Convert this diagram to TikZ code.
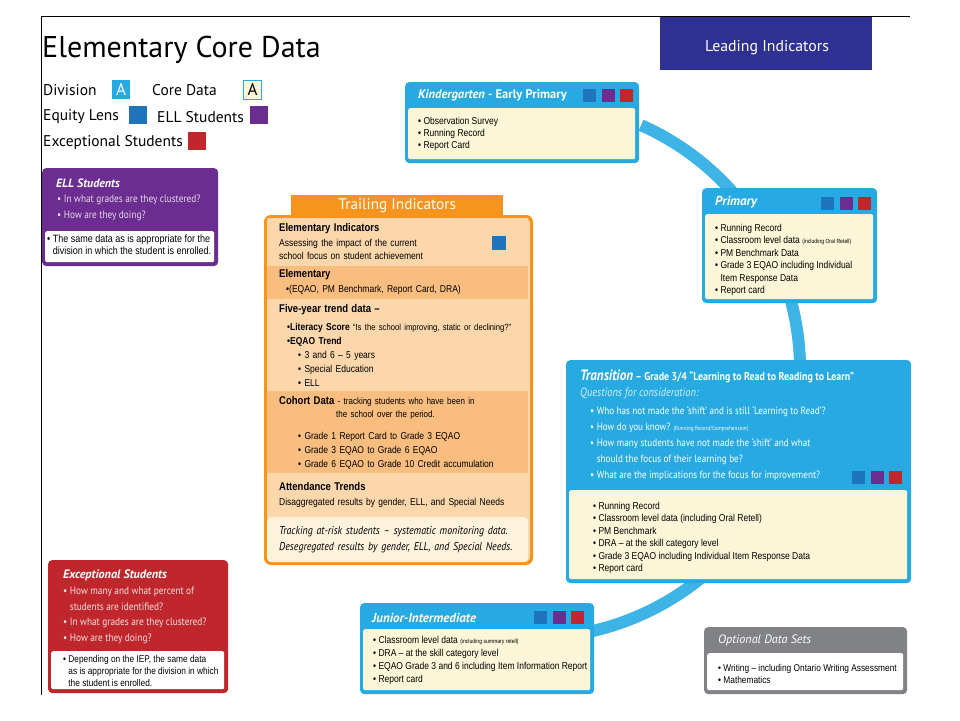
\documentclass[tikz,border=0pt]{standalone}
\usepackage{fontspec}
\setmainfont{PT Sans}
\newfontfamily\condfont[FakeStretch=0.87]{PT Sans}
\newfontfamily\narrowfont[FakeStretch=0.85]{Liberation Sans}
\usetikzlibrary{positioning}

\definecolor{skyhead}{RGB}{39,170,225}
\definecolor{ringblue}{RGB}{62,179,230}
\definecolor{creamfill}{RGB}{252,246,216}
\definecolor{equityblue}{RGB}{31,116,188}
\definecolor{ellpurple}{RGB}{107,45,144}
\definecolor{excred}{RGB}{192,39,45}
\definecolor{leadnavy}{RGB}{46,49,146}
\definecolor{trailorange}{RGB}{247,148,29}
\definecolor{peachlight}{RGB}{252,215,172}
\definecolor{peachdark}{RGB}{250,189,128}
\definecolor{peachcream}{RGB}{253,243,221}
\definecolor{optgrey}{RGB}{128,130,133}

\newcommand{\listtext}{\narrowfont\fontsize{10}{12.4}\selectfont}
\newcommand{\tinytext}{\narrowfont\fontsize{6}{7}\selectfont}
\newcommand{\boxtitle}{\bfseries\fontsize{13}{14}\selectfont}
\newcommand{\qtext}{\condfont\fontsize{10.5}{16}\selectfont}
\newcommand{\trailtext}{\narrowfont\fontsize{10}{14}\selectfont}
\newcommand{\trailhead}{\bfseries\fontsize{11.2}{14}\selectfont}

\tikzset{
  cardframe/.style={draw=#1, fill=#1, line width=1.2, rounded corners=4,
    anchor=north west, inner sep=0},
  cardbody/.style={fill=#1, rounded corners=2, anchor=north west, inner sep=0},
  cardtitle/.style={anchor=west, inner sep=0, text=white, font=\boxtitle},
  cardlist/.style={anchor=west, inner sep=0, align=left, font=\listtext},
  colsq/.style={fill=#1, minimum size=13, inner sep=0},
  legend/.style={anchor=west, inner sep=0, font=\fontsize{15.5}{18}\selectfont},
  section/.style={fill=#1, anchor=north west, minimum width=261,
    text width=237, inner xsep=12, inner ysep=0, align=left, font=\trailtext}
}

\begin{document}
\begin{tikzpicture}[x=1pt,y=-1pt]
  \path[use as bounding box, fill=white] (0,0) rectangle (960,720);
  \draw[line width=1] (41,695) -- (41,16) -- (910,16);

  \node[anchor=west, inner sep=0, font=\fontsize{30}{32}\selectfont] (title) at (42,50) {Elementary Core Data};
  \node[legend] (division) at (43,90) {Division};
  \node[fill=skyhead, text=white, minimum width=18, minimum height=19,
    inner sep=0, font=\fontsize{17}{17}\selectfont] (divkey) at (121,89.5) {A};
  \node[legend] (coredata) at (152,90) {Core Data};
  \node[draw=skyhead, fill=creamfill, minimum width=18, minimum height=19,
    inner sep=0, font=\fontsize{17}{17}\selectfont] (corekey) at (252.5,89.5) {A};
  \node[legend] (equity) at (43,117) {Equity Lens};
  \node[colsq=equityblue, minimum size=18] (equitykey) at (138,115) {};
  \node[legend] (elllabel) at (157,117) {ELL Students};
  \node[colsq=ellpurple, minimum size=18] (ellkey) at (259,115) {};
  \node[legend] (exclabel) at (43,143) {Exceptional Students};
  \node[colsq=excred, minimum size=18] (exckey) at (197,141) {};

  \node[fill=leadnavy, minimum width=212, minimum height=53, anchor=north west] (leading) at (660,17) {};
  \node[text=white, inner sep=0, font=\fontsize{15.8}{17}\selectfont] (leadtext) at (767,48) {Leading Indicators};

  \coordinate (ringc) at (532,370);
  \draw[ringblue, line width=12] ([shift={(-66:268)}]ringc) arc[start angle=-66, end angle=77, radius=268];

  \node[cardframe=ellpurple, minimum width=175, minimum height=97] (ell) at (42,168) {};
  \node[cardbody=white, minimum width=169, minimum height=31] (ellbody) at (45,231) {};
  \node[cardtitle, font=\bfseries\itshape\fontsize{12}{13}\selectfont] (elltitle) at (56,183) {ELL Students};
  \node[cardlist, text=white!82!ellpurple, font=\condfont\fontsize{10.7}{16}\selectfont] (ellqs) at (57,208)
    {• In what grades are they clustered?\\ • How are they doing?};
  \node[cardlist, font=\narrowfont\fontsize{10.6}{12}\selectfont] (elllist) at (47,245)
    {• The same data as is appropriate for the\\ \phantom{• }division in which the student is enrolled.};

  \node[cardframe=excred, minimum width=179, minimum height=132] (exc) at (48,560) {};
  \node[cardbody=white, minimum width=173, minimum height=38] (excbody) at (51,651) {};
  \node[cardtitle, font=\bfseries\itshape\fontsize{12.2}{13}\selectfont] (exctitle) at (63,575) {Exceptional Students};
  \node[cardlist, text=white!85!excred, font=\condfont\fontsize{10.7}{15.5}\selectfont] (excqs) at (63,615.5)
    {• How many and what percent of\\ \phantom{• }students are identified?\\ • In what grades are they clustered?\\ • How are they doing?};
  \node[cardlist, font=\narrowfont\fontsize{9.8}{12}\selectfont] (exclist) at (63,671)
    {• Depending on the IEP, the same data\\ \phantom{• }as is appropriate for the division in which\\ \phantom{• }the student is enrolled.};

  \node[fill=trailorange, minimum width=212, minimum height=22, anchor=north west,
    text=white, font=\fontsize{15.3}{16}\selectfont] (trailtab) at (291,195) {Trailing Indicators};
  \node[draw=trailorange, fill=peachlight, line width=2, rounded corners=6,
    minimum width=265, minimum height=346, anchor=north west] (trailing) at (265,216) {};
  \node[section=peachlight, minimum height=47] (elemind) at (267,218)
    {{\trailhead Elementary Indicators}\\[1pt] Assessing the impact of the current\\[-1pt] school focus on student achievement};
  \node[section=peachdark, minimum height=33, below=0 of elemind] (elem)
    {{\trailhead Elementary}\\[1pt] \hspace*{7pt}•(EQAO, PM Benchmark, Report Card, DRA)};
  \node[section=peachlight, minimum height=92, below=0 of elem] (fiveyr)
    {{\trailhead Five-year trend data –}\\[4pt]
     \hspace*{8pt}•\textbf{Literacy Score} {\fontsize{9}{14}\selectfont “Is the school improving, static or declining?”}\\
     \hspace*{8pt}•\textbf{EQAO Trend}\\
     \hspace*{19pt}• 3 and 6 – 5 years\\
     \hspace*{19pt}• Special Education\\
     \hspace*{19pt}• ELL};
  \node[section=peachdark, minimum height=82, below=0 of fiveyr] (cohort)
    {{\trailhead Cohort Data} {\fontsize{9.4}{14}\selectfont - tracking students who have been in}\\[-1pt]
     \hspace*{57pt}{\fontsize{9.4}{14}\selectfont the school over the period.}\\[8pt]
     \hspace*{19pt}• Grade 1 Report Card to Grade 3 EQAO\\
     \hspace*{19pt}• Grade 3 EQAO to Grade 6 EQAO\\
     \hspace*{19pt}• Grade 6 EQAO to Grade 10 Credit accumulation};
  \node[section=peachlight, minimum height=43, below=0 of cohort] (attend)
    {{\trailhead Attendance Trends}\\[1pt] Disaggregated results by gender, ELL, and Special Needs};
  \node[section=peachcream, minimum height=45, rounded corners=4, below=0 of attend,
    font=\condfont\itshape\fontsize{11.4}{16}\selectfont] (tracking)
    {Tracking at-risk students – systematic monitoring data.\\ Desegregated results by gender, ELL, and Special Needs.};
  \draw[trailorange, line width=2, rounded corners=6] (trailing.north west) rectangle (trailing.south east);
  \node[colsq=equityblue, minimum size=14] (elemindkey) at (499,242.5) {};

  \node[cardframe=skyhead, minimum width=233, minimum height=80] (kinder) at (405,82) {};
  \node[cardbody=creamfill, minimum width=227, minimum height=51] (kinderbody) at (408,108) {};
  \node[cardtitle, font=\bfseries\fontsize{12.5}{14}\selectfont] (kindertitle) at (418,95) {\itshape Kindergarten\upshape{} - Early Primary};
  \node[colsq=excred] (kinderred) at (626.5,95) {};
  \node[colsq=ellpurple, left=5 of kinderred] (kinderpurple) {};
  \node[colsq=equityblue, left=5 of kinderpurple] (kinderblue) {};
  \node[cardlist] (kinderlist) at (418,134)
    {• Observation Survey\\ • Running Record\\ • Report Card};

  \node[cardframe=skyhead, minimum width=174, minimum height=114] (primary) at (702,188) {};
  \node[cardbody=creamfill, minimum width=168, minimum height=85] (primarybody) at (705,214) {};
  \node[cardtitle, font=\boxtitle\itshape] (primarytitle) at (715,202) {Primary};
  \node[colsq=excred] (primaryred) at (864.5,203) {};
  \node[colsq=ellpurple, left=5 of primaryred] (primarypurple) {};
  \node[colsq=equityblue, left=5 of primarypurple] (primaryblue) {};
  \node[cardlist] (primarylist) at (715,260)
    {• Running Record\\ • Classroom level data {\tinytext (including Oral Retell)}\\ • PM Benchmark Data\\
     • Grade 3 EQAO including Individual\\ \phantom{• }Item Response Data\\ • Report card};

  \node[cardframe=skyhead, minimum width=344, minimum height=222] (transition) at (566,360) {};
  \node[cardbody=creamfill, minimum width=338, minimum height=89] (transitionbody) at (569,490) {};
  \node[cardtitle, font=\condfont\bfseries] (transitiontitle) at (580,376)
    {{\itshape\fontsize{15}{16}\selectfont Transition} {\fontsize{11.4}{12}\selectfont – Grade 3/4 “Learning to Read to Reading to Learn”}};
  \node[cardtitle, font=\condfont\itshape\fontsize{12}{13}\selectfont, text=white!80!skyhead] (questions) at (580,393)
    {Questions for consideration:};
  \node[cardlist, text=white, font=\qtext] (transitionqs) at (590,443)
    {• Who has not made the ‘shift’ and is still ‘Learning to Read’?\\
     • How do you know? {\condfont\fontsize{6}{7}\selectfont (Running Record/Comprehension)}\\
     • How many students have not made the ‘shift’ and what\\
     \phantom{• }should the focus of their learning be?\\
     • What are the implications for the focus for improvement?};
  \node[colsq=excred] (transitionred) at (895.5,477.5) {};
  \node[colsq=ellpurple, left=5 of transitionred] (transitionpurple) {};
  \node[colsq=equityblue, left=5 of transitionpurple] (transitionblue) {};
  \node[cardlist] (transitionlist) at (593,538)
    {• Running Record\\ • Classroom level data (including Oral Retell)\\ • PM Benchmark\\
     • DRA – at the skill category level\\ • Grade 3 EQAO including Individual Item Response Data\\ • Report card};

  \node[cardframe=skyhead, minimum width=233, minimum height=90] (junior) at (360,603) {};
  \node[cardbody=creamfill, minimum width=227, minimum height=61] (juniorbody) at (363,629) {};
  \node[cardtitle, font=\boxtitle\itshape] (juniortitle) at (372,618) {Junior-Intermediate};
  \node[colsq=excred] (juniorred) at (577.5,617.5) {};
  \node[colsq=ellpurple, left=5 of juniorred] (juniorpurple) {};
  \node[colsq=equityblue, left=5 of juniorpurple] (juniorblue) {};
  \node[cardlist, font=\narrowfont\fontsize{10}{13}\selectfont] (juniorlist) at (373,660.5)
    {• Classroom level data {\tinytext (including summary retell)}\\ • DRA – at the skill category level\\
     • EQAO Grade 3 and 6 including Item Information Report\\ • Report card};

  \node[cardframe=optgrey, minimum width=202, minimum height=66] (optional) at (704,627) {};
  \node[cardbody=white, minimum width=196, minimum height=37] (optionalbody) at (707,653) {};
  \node[cardtitle, font=\itshape\fontsize{12.2}{13}\selectfont] (optionaltitle) at (718,640) {Optional Data Sets};
  \node[cardlist, font=\narrowfont\fontsize{9.8}{12}\selectfont] (optionallist) at (718,674)
    {• Writing – including Ontario Writing Assessment\\ • Mathematics};
\end{tikzpicture}
\end{document}
